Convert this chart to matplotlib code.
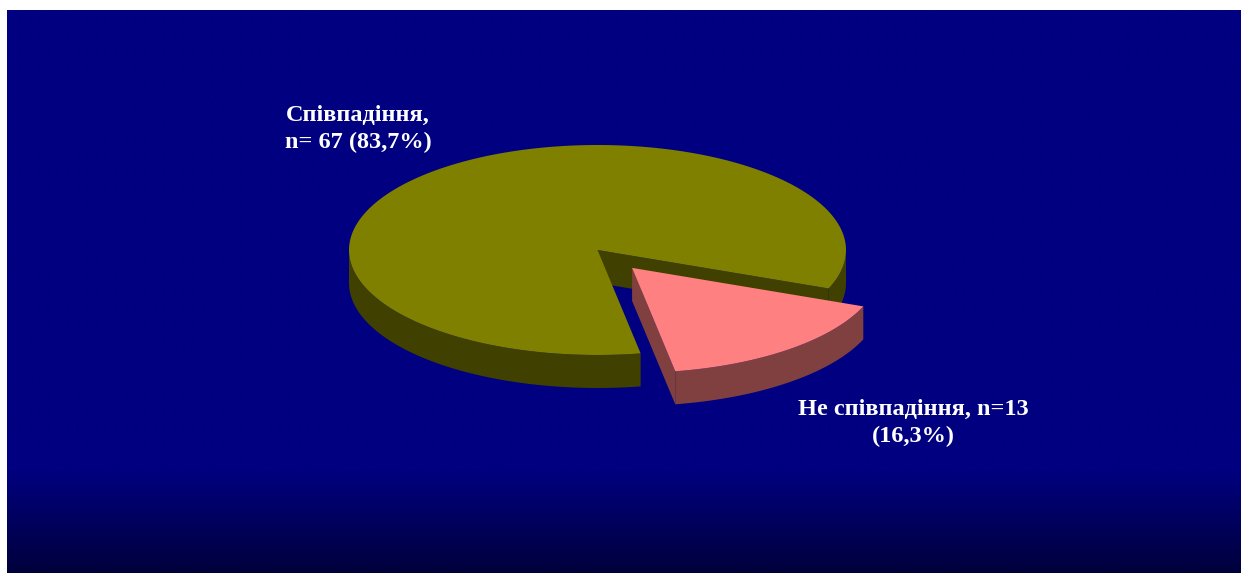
import numpy as np
import matplotlib
matplotlib.use("Agg")
import matplotlib.pyplot as plt
from matplotlib.patches import Polygon
from matplotlib.colors import LinearSegmentedColormap

# Data
categories = ["Співпадіння", "Не співпадіння"]
counts = [67, 13]
percents = [83.7, 16.3]
labels = ["Співпадіння,\nn= 67 (83,7%)", "Не співпадіння, n=13\n(16,3%)"]
top_colors = ["#808000", "#FF8080"]
side_colors = ["#404000", "#804040"]
explode = [0.0, 0.22]

# Layout (pixel units, y grows downward)
W, H = 1243, 575
CX, CY = 597.5, 250.0
RX, RY = 248.5, 105.0
DEPTH = 33.0
START = -80.0 + 360 * counts[1] / sum(counts)   # olive slice starts where the pink one ends
label_pos = [(358, 129), (913, 423)]

fig = plt.figure(figsize=(W / 100, H / 100), dpi=100)
fig.patch.set_facecolor("white")
ax = fig.add_axes([0, 0, 1, 1])
ax.set_xlim(0, W)
ax.set_ylim(H, 0)
ax.axis("off")

# Navy panel with a dark fade at the bottom
x0, x1, y0, y1 = 7, 1241, 10, 573
ys = np.linspace(y0, y1, 400)
fade = np.clip((ys - 470) / (y1 - 470), 0, 1)
grad = fade[:, None] * np.ones((1, 2))
cmap = LinearSegmentedColormap.from_list("navy", ["#000080", "#00003C"])
ax.imshow(grad, extent=(x0, x1, y1, y0), cmap=cmap, vmin=0, vmax=1,
          aspect="auto", interpolation="bilinear", zorder=0)


def pt(t_deg, ox, oy, dz=0.0):
    t = np.radians(t_deg)
    return CX + ox + RX * np.cos(t), CY + oy - RY * np.sin(t) + dz


def arc(t0, t1, ox, oy, dz=0.0, n=200):
    ts = np.linspace(t0, t1, n)
    xs, ys_ = pt(ts, ox, oy, dz)
    return np.column_stack([xs, ys_])


def draw_slice(t0, t1, ex, top, side, z):
    tm = np.radians((t0 + t1) / 2)
    ox, oy = ex * RX * np.cos(tm), -ex * RY * np.sin(tm)
    c = np.array([CX + ox, CY + oy])
    cd = c + [0, DEPTH]
    # radial cut faces
    if np.cos(np.radians(t0)) > 0:
        p = np.array(pt(t0, ox, oy))
        ax.add_patch(Polygon([c, p, p + [0, DEPTH], cd], closed=True,
                             facecolor=side, edgecolor="none", zorder=z))
    if np.cos(np.radians(t1)) < 0:
        p = np.array(pt(t1, ox, oy))
        ax.add_patch(Polygon([c, p, p + [0, DEPTH], cd], closed=True,
                             facecolor=side, edgecolor="none", zorder=z))
    # outer wall: front half of the rim (180..360 deg)
    for k in range(-1, 2):
        a0 = max(t0, 180 + 360 * k)
        a1 = min(t1, 360 + 360 * k)
        if a1 > a0:
            upper = arc(a0, a1, ox, oy)
            lower = arc(a1, a0, ox, oy, DEPTH)
            ax.add_patch(Polygon(np.vstack([upper, lower]), closed=True,
                                 facecolor=side, edgecolor="none", zorder=z + 0.1))
    # top face
    ax.add_patch(Polygon(np.vstack([c, arc(t0, t1, ox, oy)]), closed=True,
                         facecolor=top, edgecolor="none", zorder=z + 0.2))


total = sum(counts)
spans = [360 * v / total for v in counts]
t = START
for i, (span, ex) in enumerate(zip(spans, explode)):
    draw_slice(t, t + span, ex, top_colors[i], side_colors[i], 2 + i)
    t += span

for lab, (lx, ly) in zip(labels, label_pos):
    ax.text(lx, ly, lab, ha="center", va="center", color="white",
            fontsize=17.5, fontweight="bold", family="Liberation Serif",
            linespacing=1.35, zorder=10)

fig.savefig("out.png", dpi=100, facecolor="white")
